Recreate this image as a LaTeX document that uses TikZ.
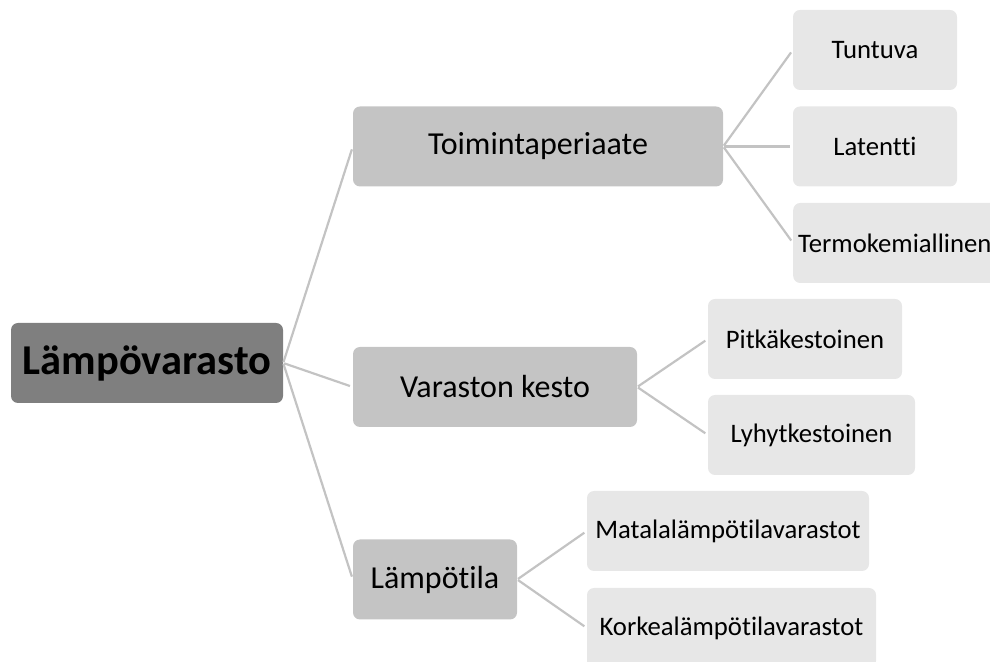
\documentclass[tikz,border=0pt]{standalone}
\usepackage{fontspec}
\setmainfont{Carlito}[Ligatures=NoCommon]
\definecolor{rootgray}{HTML}{7F7F7F}
\definecolor{catgray}{HTML}{C4C4C4}
\definecolor{leafgray}{HTML}{E7E7E7}
\definecolor{linkgray}{HTML}{C3C3C3}
\begin{document}
\begin{tikzpicture}[x=1pt, y=1pt,
    box/.style = {rounded corners=7pt, inner sep=0pt, minimum height=80pt},
    root/.style = {box, fill=rootgray, font=\fontsize{42.5}{48}\selectfont\bfseries},
    cat/.style = {box, fill=catgray, font=\fontsize{32}{36}\selectfont},
    leaf/.style = {box, fill=leafgray, font=\fontsize{26.7}{31}\selectfont},
    link/.style = {draw=linkgray, line width=2.2pt, shorten <=1pt, shorten >=3pt}]
		\useasboundingbox (0,0) rectangle (990,661);
		\node[root, minimum width=272pt] (lampovarasto) at (147,298) {Lämpövarasto};
		\node[cat, minimum width=370pt] (toiminta) at (538,514.5) {Toimintaperiaate};
		\node[cat, minimum width=284pt] (kesto) at (495,274) {Varaston kesto};
		\node[cat, minimum width=164pt] (lampotila) at (435,81.5) {Lämpötila};
		\node[leaf, minimum width=164pt] (tuntuva) at (875,611) {Tuntuva};
		\node[leaf, minimum width=164pt] (latentti) at (875,514.5) {Latentti};
		\node[leaf, minimum width=210pt, anchor=west, inner xsep=5pt, text width=200pt, align=left] (termo) at (793,418) {Termokemiallinen};
		\node[leaf, minimum width=194pt] (pitka) at (805,322) {Pitkäkestoinen};
		\node[leaf, minimum width=207pt] (lyhyt) at (811.5,226) {Lyhytkestoinen};
		\node[leaf, minimum width=282pt] (matala) at (728,130) {Matalalämpötilavarastot};
		\node[leaf, minimum width=289pt] (korkea) at (731.5,33) {Korkealämpötilavarastot};
		\draw[link] (lampovarasto.east) -- (toiminta.west);
		\draw[link] (lampovarasto.east) -- (kesto.west);
		\draw[link] (lampovarasto.east) -- (lampotila.west);
		\draw[link] (toiminta.east) -- (tuntuva.west);
		\draw[link] (toiminta.east) -- (latentti.west);
		\draw[link] (toiminta.east) -- (termo.west);
		\draw[link] (kesto.east) -- (pitka.west);
		\draw[link] (kesto.east) -- (lyhyt.west);
		\draw[link] (lampotila.east) -- (matala.west);
		\draw[link] (lampotila.east) -- (korkea.west);
		\end{tikzpicture}
\end{document}
